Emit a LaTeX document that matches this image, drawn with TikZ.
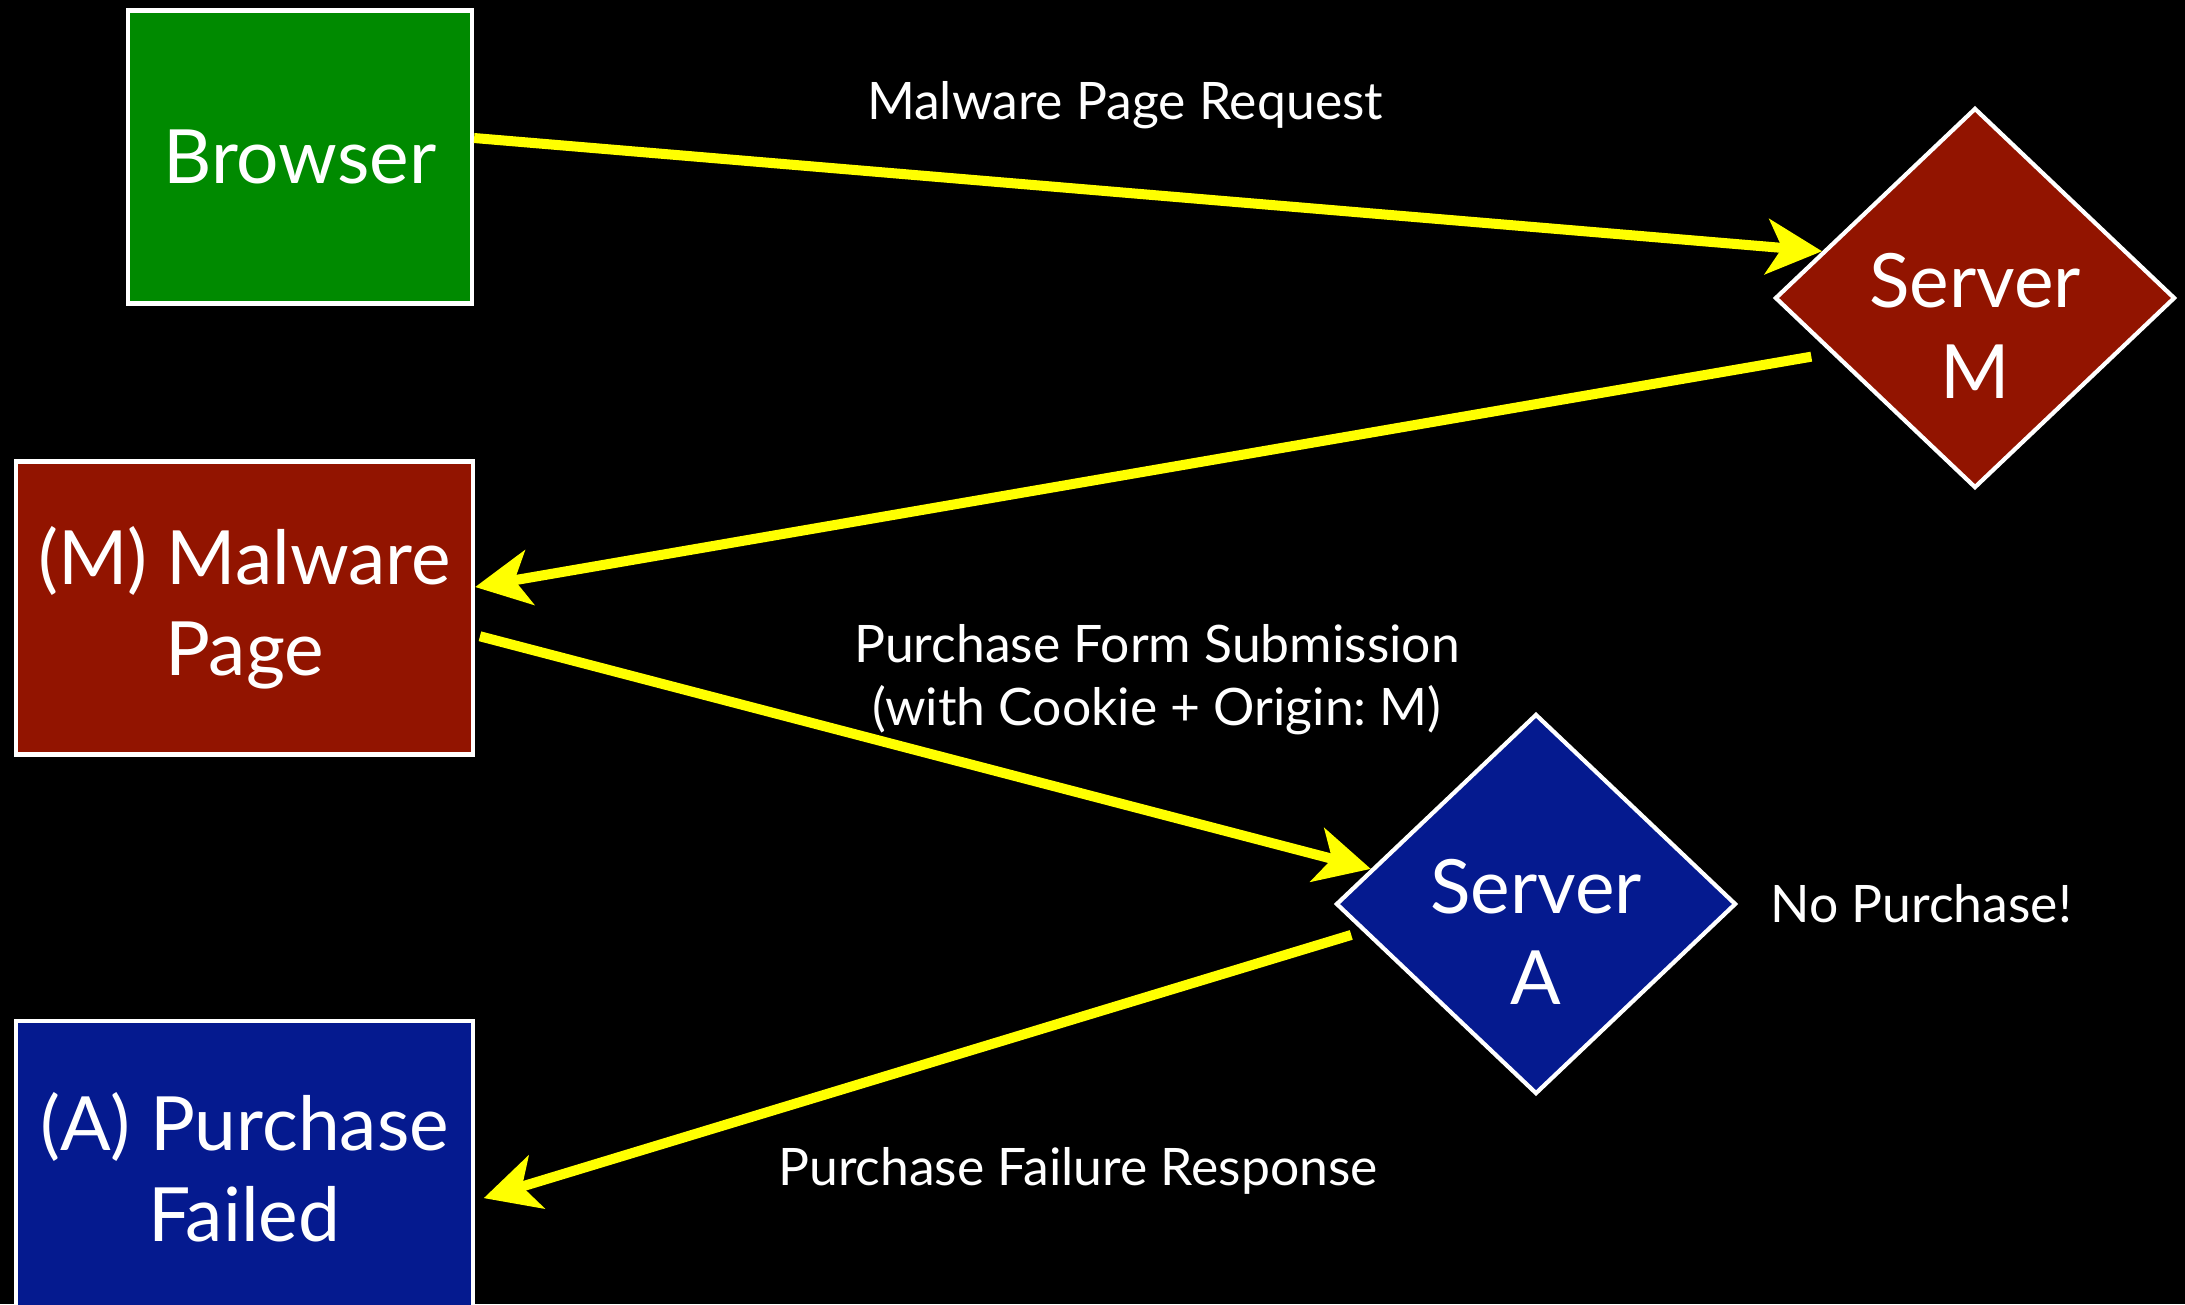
\documentclass[tikz,border=0pt]{standalone}
\usepackage{fontspec}
\setmainfont{Lato}
\frenchspacing
\usetikzlibrary{positioning,arrows.meta,shapes.geometric}
\definecolor{brgreen}{RGB}{0,138,0}
\definecolor{malred}{RGB}{146,20,0}
\definecolor{srvblue}{RGB}{5,26,143}
\definecolor{flowyellow}{RGB}{255,255,0}

\begin{document}
\begin{tikzpicture}[
  box/.style={draw=white, line width=1.2pt, minimum height=2.93cm, align=center,
              text=white, font=\fontsize{21.3}{26}\selectfont, inner sep=0pt},
  diam/.style={diamond, draw=white, line width=1.2pt, minimum width=4cm,
               minimum height=3.8cm, inner sep=0pt},
  big/.style={text=white, align=center, font=\fontsize{21.3}{26}\selectfont},
  lbl/.style={text=white, align=center, font=\fontsize{14.7}{18}\selectfont},
  arr/.style={-{Stealth[length=5.5mm, width=5.5mm, inset=1.5mm]}, line width=2.85pt,
              draw=flowyellow},
  ]
  \useasboundingbox (0,0) rectangle (21.85,-13.04);
  \clip (0,0) rectangle (21.85,-13.04);
  \fill[black] (0,0) rectangle (21.85,-13.04);

  \node[box, fill=brgreen, minimum width=3.44cm] (browser) at (3.00,-1.57) {Browser};
  \node[box, fill=malred, minimum width=4.57cm] (malpage) at (2.445,-6.08) {(M) Malware\\Page};
  \node[box, fill=srvblue, minimum width=4.57cm, below=2.62cm of malpage] (failed) {(A) Purchase\\Failed};
  \node[diam, fill=malred, label={[big, yshift=-0.28cm]center:Server\\M}] (servm) at (19.75,-2.98) {};
  \node[diam, fill=srvblue, label={[big, yshift=-0.28cm]center:Server\\A}] (serva) at (15.36,-9.04) {};

  \node[lbl] (req) at (11.25,-1.05) {Malware Page Request};
  \node[lbl] (sub) at (11.57,-6.80) {Purchase Form Submission\\(with Cookie + Origin: M)};
  \node[lbl, right=0.2cm of serva] (nopurch) {No Purchase!};
  \node[lbl] (resp) at (10.78,-11.71) {Purchase Failure Response};

  \draw[arr] ([yshift=0.19cm]browser.east) -- (servm.163);
  \draw[arr, shorten <=0.2cm] (servm.201) -- ([yshift=0.21cm]malpage.east);
  \draw[arr, shorten <=0.05cm] ([yshift=-0.27cm]malpage.east) -- (serva.168);
  \draw[arr, shorten <=0.12cm, shorten >=0.09cm] (serva.189) -- ([yshift=-0.335cm]failed.east);
\end{tikzpicture}
\end{document}
